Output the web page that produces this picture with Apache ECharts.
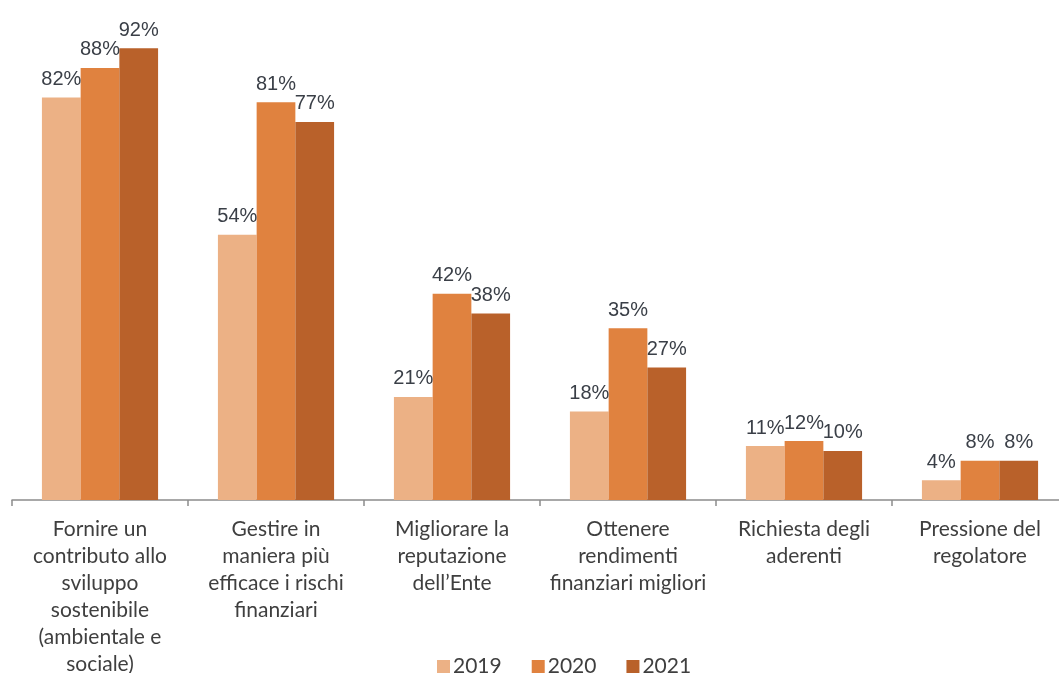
<!DOCTYPE html>
<html>
<head>
<meta charset="utf-8">
<script src="https://cdn.jsdelivr.net/npm/echarts@6/dist/echarts.min.js"></script>
<style>
  html, body { margin: 0; padding: 0; background: #ffffff; }
  #chart { width: 1059px; height: 673px; }
</style>
</head>
<body>
<div id="chart"></div>
<script>
// Motivazioni per l'adozione di politiche ESG (quota di rispondenti)
const categories = [
  'Fornire un\ncontributo allo\nsviluppo\nsostenibile\n(ambientale e\nsociale)',
  'Gestire in\nmaniera più\nefficace i rischi\nfinanziari',
  'Migliorare la\nreputazione\ndell\u2019Ente',
  'Ottenere\nrendimenti\nfinanziari migliori',
  'Richiesta degli\naderenti',
  'Pressione del\nregolatore'
];
const years = ['2019', '2020', '2021'];
const values2019 = [82, 54, 21, 18, 11, 4];
const values2020 = [88, 81, 42, 35, 12, 8];
const values2021 = [92, 77, 38, 27, 10, 8];
const colors = ['#ECB185', '#E0823F', '#B9612A'];

const seriesValues = [values2019, values2020, values2021];

const chart = echarts.init(document.getElementById('chart'));
chart.setOption({
  backgroundColor: '#ffffff',
  animation: false,
  color: colors,
  grid: {
    left: 12,
    right: -9,
    top: 9,
    bottom: 173,
    outerBoundsMode: 'none',
    containLabel: false
  },
  legend: {
    data: years,
    left: 432,
    top: 651,
    itemWidth: 13,
    itemHeight: 13,
    itemGap: 30,
    icon: 'rect',
    textStyle: {
      fontFamily: 'Lato, "Open Sans", sans-serif',
      fontSize: 21,
      color: '#3f3f3f',
      padding: [0, 0, 0, -2]
    }
  },
  xAxis: {
    type: 'category',
    data: categories,
    axisLine: { show: true, lineStyle: { color: '#8c8c8c', width: 1.5 } },
    axisTick: { show: true, length: 6, lineStyle: { color: '#8c8c8c', width: 1.5 } },
    axisLabel: {
      interval: 0,
      margin: 16,
      fontFamily: 'Lato, "Open Sans", sans-serif',
      fontSize: 21,
      lineHeight: 27,
      color: '#3f3f3f',
      align: 'center'
    }
  },
  yAxis: {
    type: 'value',
    min: 0,
    max: 100,
    show: false,
    splitLine: { show: false }
  },
  series: years.map((y, i) => ({
    name: y,
    type: 'bar',
    data: seriesValues[i],
    barGap: '0%',
    barCategoryGap: '34%',
    itemStyle: { color: colors[i] },
    label: {
      show: true,
      position: 'top',
      distance: 8,
      formatter: '{c}%',
      fontFamily: '"Liberation Sans", Arial, sans-serif',
      fontSize: 20,
      color: '#3a3f47'
    }
  }))
});
</script>
</body>
</html>
